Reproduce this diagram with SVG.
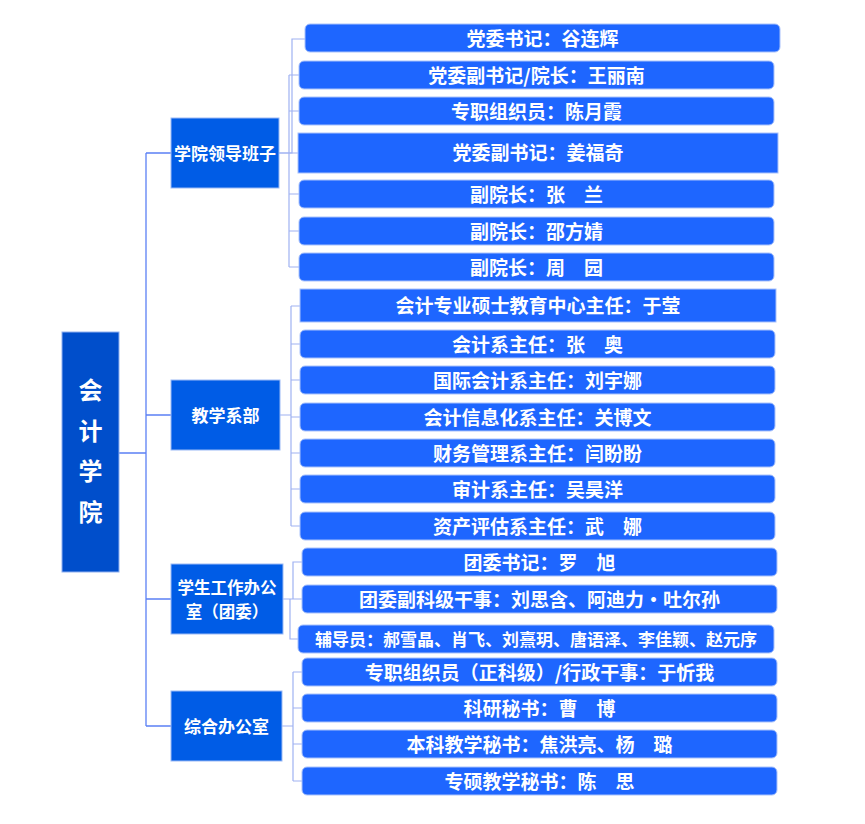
<svg xmlns="http://www.w3.org/2000/svg" width="865" height="824" viewBox="0 0 865 824">
<style>
.root{fill:#004ecb;stroke:#8fb0f0;stroke-width:1}
.l1{fill:#005ce6;stroke:#9bbaf5;stroke-width:1}
.l2{fill:#1e66ff;stroke:#a9c2fb;stroke-width:1}
.t{font-family:"Noto Sans CJK SC","Noto Sans",sans-serif;font-weight:bold;fill:#ffffff;text-anchor:middle;dominant-baseline:central}
.t2{font-size:19px}
.t1{font-size:17px}
.tr{font-size:24px}
.c0{fill:none;stroke:#5b80f5;stroke-width:1.3}
.c1{fill:none;stroke:#9fb2f2;stroke-width:1.2}
</style>
<rect width="865" height="824" fill="#ffffff"/>
<g id="connectors">
<path class="c0" d="M119,453 H146 M146,153 V726 M146,153 H171 M146,415 H171 M146,599 H171 M146,726 H171"/>
<path class="c1" d="M279,153 H292 V39 H305"/>
<path class="c1" d="M279,153 H289 M289,75 V267 M289,75 H299 M289,111 H299 M289,153 H298 M289,194 H299 M289,231 H299 M289,267 H299"/>
<path class="c1" d="M280,415 H291 M291,306 V526 M291,306 H300 M291,344 H300 M291,380 H300 M291,417 H300 M291,453 H300 M291,489 H300 M291,526 H300"/>
<path class="c1" d="M283,599 H293 V562 H302 M293,599 H302 M290,599 V639 H298"/>
<path class="c1" d="M282,726 H293 M293,672 V781 M293,672 H302 M293,708 H302 M293,744 H302 M293,781 H302"/>
</g>
<g id="root">
<rect class="root" x="62" y="332" width="57" height="240"/>
<text class="t tr" x="90.5" y="388">会</text>
<text class="t tr" x="90.5" y="429">计</text>
<text class="t tr" x="90.5" y="469">学</text>
<text class="t tr" x="90.5" y="510">院</text>
</g>
<g id="n-lead">
<rect class="l1" x="171" y="118" width="108" height="70"/>
<text class="t t1" x="225" y="152">学院领导班子</text>
</g>
<g id="n-teach">
<rect class="l1" x="171" y="380" width="109" height="70"/>
<text class="t t1" x="225.5" y="414">教学系部</text>
</g>
<g id="n-student">
<rect class="l1" x="171" y="564" width="112" height="70"/>
<text class="t" style="font-size:16.5px" x="227" y="586.5">学生工作办公</text>
<text class="t" style="font-size:16.5px" x="227" y="610.5">室（团委）</text>
</g>
<g id="n-office">
<rect class="l1" x="171" y="691" width="111" height="70"/>
<text class="t t1" x="226.5" y="725">综合办公室</text>
</g>
<g id="a1"><rect class="l2" x="305" y="24" width="475" height="28" rx="5"/><text class="t t2" x="542.5" y="37">党委书记：谷连辉</text></g>
<g id="a2"><rect class="l2" x="299" y="61" width="475" height="28" rx="5"/><text class="t t2" x="536.5" y="74">党委副书记/院长：王丽南</text></g>
<g id="a3"><rect class="l2" x="299" y="97" width="475" height="28" rx="5"/><text class="t t2" x="536.5" y="110">专职组织员：陈月霞</text></g>
<g id="a4"><rect class="l2" x="298" y="133" width="480" height="40"/><text class="t t2" x="538" y="151">党委副书记：姜福奇</text></g>
<g id="a5"><rect class="l2" x="299" y="180" width="475" height="28" rx="5"/><text class="t t2" x="536.5" y="193">副院长：张　兰</text></g>
<g id="a6"><rect class="l2" x="299" y="217" width="475" height="28" rx="5"/><text class="t t2" x="536.5" y="230">副院长：邵方婧</text></g>
<g id="a7"><rect class="l2" x="299" y="253" width="475" height="28" rx="5"/><text class="t t2" x="536.5" y="266">副院长：周　园</text></g>
<g id="b1"><rect class="l2" x="300" y="289" width="476" height="33"/><text class="t t2" x="538" y="304">会计专业硕士教育中心主任：于莹</text></g>
<g id="b2"><rect class="l2" x="300" y="330" width="475" height="28" rx="5"/><text class="t t2" x="537.5" y="343">会计系主任：张　奥</text></g>
<g id="b3"><rect class="l2" x="300" y="366" width="475" height="28" rx="5"/><text class="t t2" x="537.5" y="379">国际会计系主任：刘宇娜</text></g>
<g id="b4"><rect class="l2" x="300" y="403" width="475" height="28" rx="5"/><text class="t t2" x="537.5" y="416">会计信息化系主任：关博文</text></g>
<g id="b5"><rect class="l2" x="300" y="439" width="475" height="28" rx="5"/><text class="t t2" x="537.5" y="452">财务管理系主任：闫盼盼</text></g>
<g id="b6"><rect class="l2" x="300" y="475" width="475" height="28" rx="5"/><text class="t t2" x="537.5" y="488">审计系主任：吴昊洋</text></g>
<g id="b7"><rect class="l2" x="300" y="512" width="475" height="28" rx="5"/><text class="t t2" x="537.5" y="525">资产评估系主任：武　娜</text></g>
<g id="c1"><rect class="l2" x="302" y="548" width="475" height="28" rx="5"/><text class="t t2" x="539.5" y="561">团委书记：罗　旭</text></g>
<g id="c2"><rect class="l2" x="302" y="585" width="475" height="28" rx="5"/><text class="t t2" x="539.5" y="598">团委副科级干事：刘思含、阿迪力·吐尔孙</text></g>
<g id="c3"><rect class="l2" x="298" y="625" width="476" height="28" rx="5"/><text class="t" style="font-size:17px" x="536" y="638">辅导员：郝雪晶、肖飞、刘熹玥、唐语泽、李佳颖、赵元序</text></g>
<g id="d1"><rect class="l2" x="302" y="658" width="475" height="28" rx="5"/><text class="t t2" x="539.5" y="671">专职组织员（正科级）/行政干事：于忻我</text></g>
<g id="d2"><rect class="l2" x="302" y="694" width="475" height="28" rx="5"/><text class="t t2" x="539.5" y="707">科研秘书：曹　博</text></g>
<g id="d3"><rect class="l2" x="302" y="730" width="475" height="28" rx="5"/><text class="t t2" x="539.5" y="743">本科教学秘书：焦洪亮、杨　璐</text></g>
<g id="d4"><rect class="l2" x="302" y="767" width="475" height="28" rx="5"/><text class="t t2" x="539.5" y="780">专硕教学秘书：陈　思</text></g>
</svg>
